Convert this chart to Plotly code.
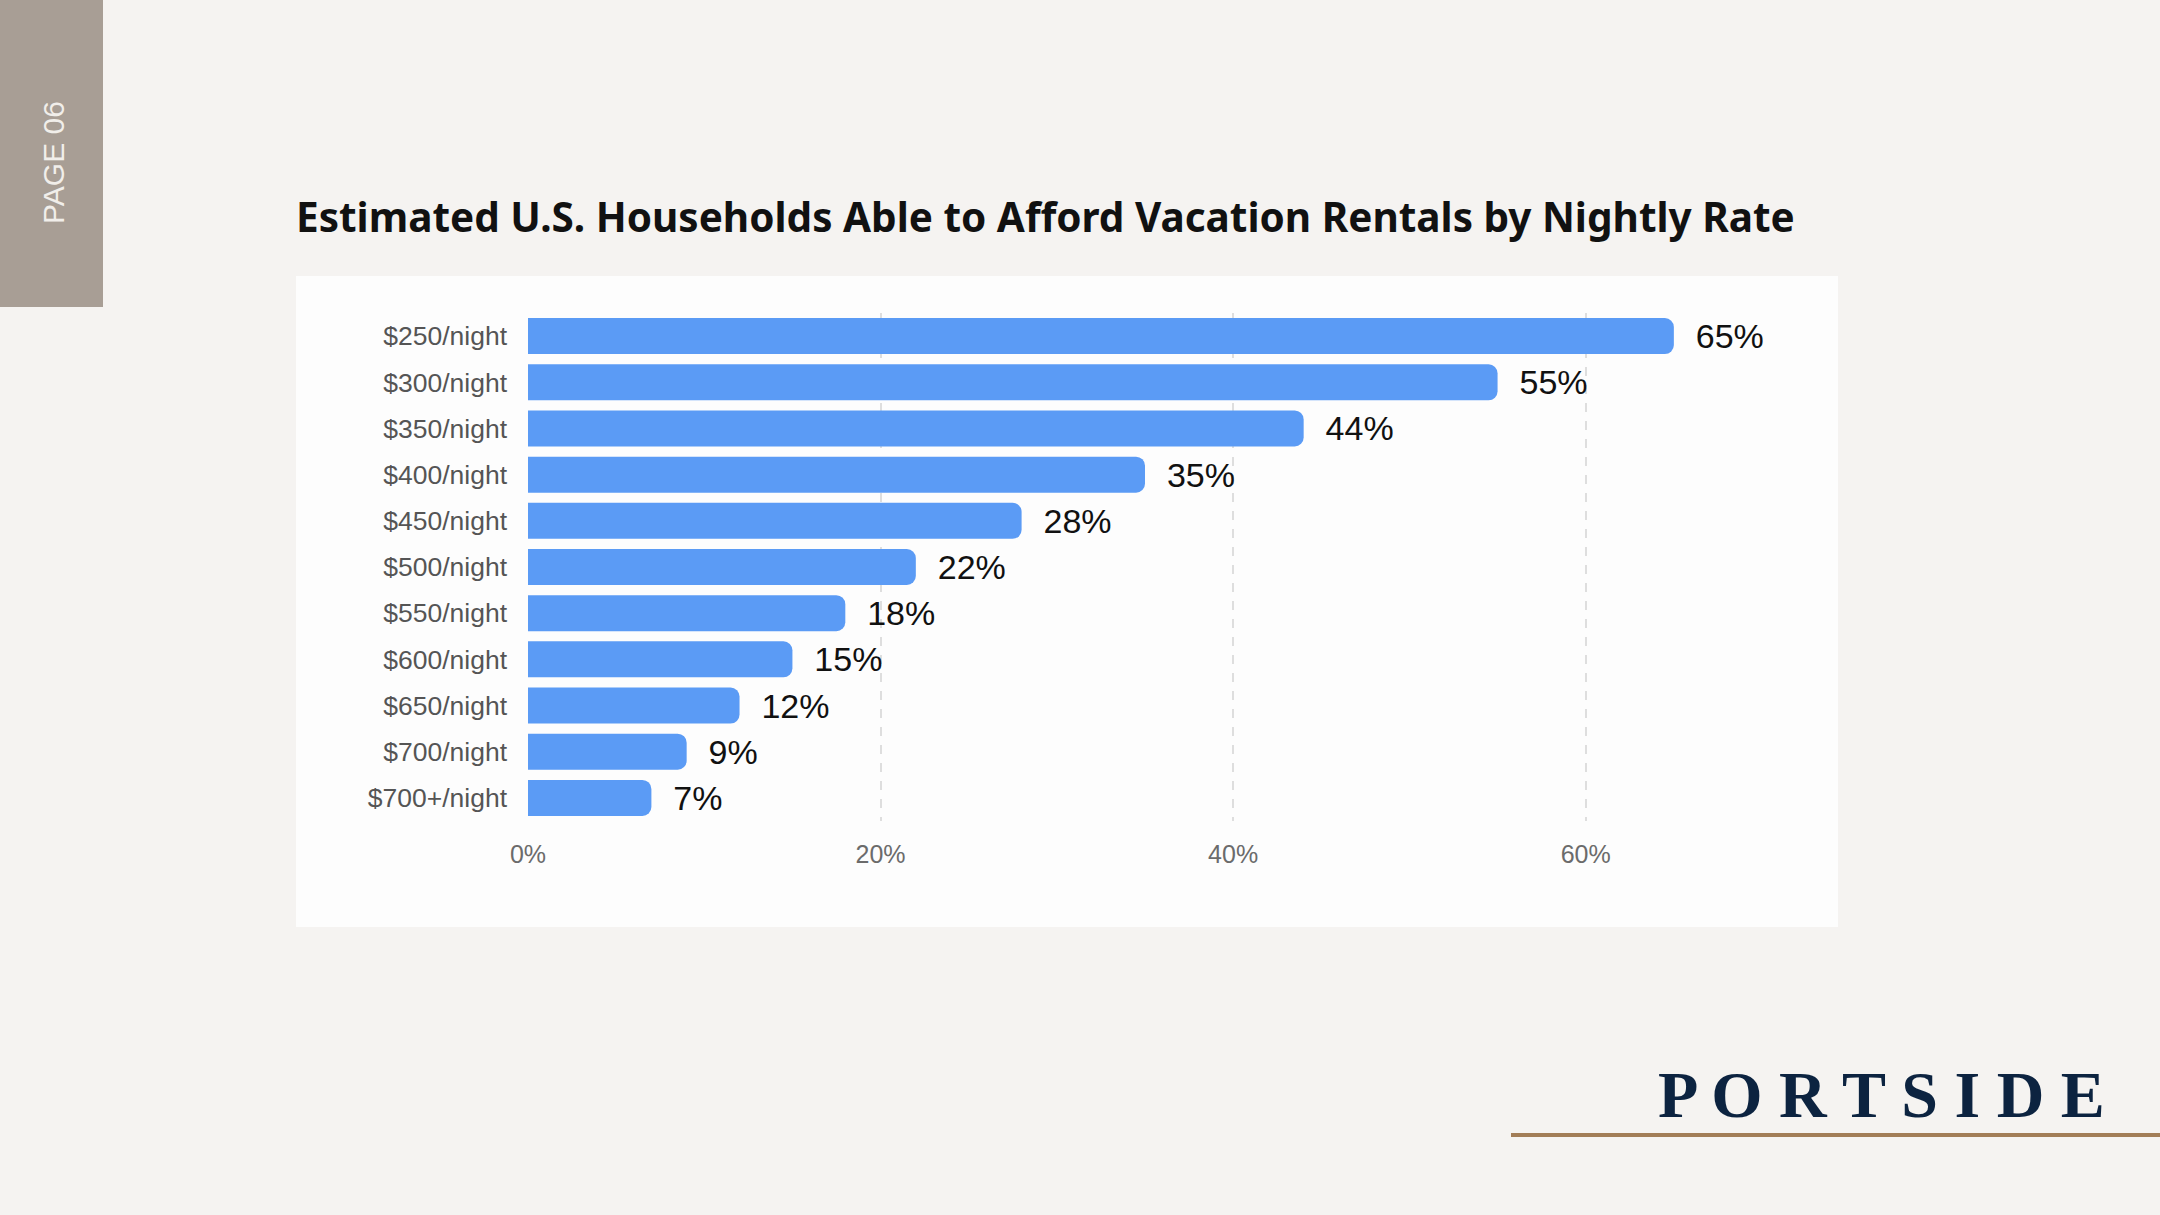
import plotly.graph_objects as go

W, H = 2160, 1215

categories = ["$250/night", "$300/night", "$350/night", "$400/night", "$450/night",
              "$500/night", "$550/night", "$600/night", "$650/night", "$700/night",
              "$700+/night"]
values = [65, 55, 44, 35, 28, 22, 18, 15, 12, 9, 7]
tick_vals = [0, 20, 40, 60]
tick_text = ["0%", "20%", "40%", "60%"]

title_text = "Estimated U.S. Households Able to Afford Vacation Rentals by Nightly Rate"

def px(v):
    return v / W

def py(v):
    return 1 - v / H

fig = go.Figure()
fig.add_trace(go.Bar(
    y=categories,
    x=values,
    orientation="h",
    marker=dict(color="#5b9bf5", cornerradius=9, line=dict(width=0)),
    text=[f"  {v}%" for v in values],
    textposition="outside",
    constraintext="none",
    cliponaxis=False,
    textfont=dict(family="Liberation Sans, Arial, sans-serif", size=34, color="#111111"),
    hoverinfo="skip",
))

shapes = [
    dict(type="rect", xref="paper", yref="paper", x0=0, x1=px(103), y0=py(307), y1=1,
         fillcolor="#a89e95", line=dict(width=0), layer="below"),
    dict(type="rect", xref="paper", yref="paper", x0=px(296), x1=px(1838), y0=py(927), y1=py(276),
         fillcolor="#fdfdfd", line=dict(width=0), layer="below"),
    dict(type="line", xref="paper", yref="paper", x0=px(1511), x1=1, y0=py(1135), y1=py(1135),
         line=dict(color="#a27d57", width=4)),
]

annotations = [
    dict(text=title_text, xref="paper", yref="paper", x=px(294), y=py(216),
         xanchor="left", yanchor="middle", showarrow=False,
         font=dict(family="Noto Sans, Open Sans, sans-serif", size=40.5, color="#111111", weight=700)),
    dict(text="PAGE 06", xref="paper", yref="paper", x=px(53), y=py(163),
         xanchor="center", yanchor="middle", showarrow=False, textangle=-90,
         font=dict(family="Liberation Sans, Arial, sans-serif", size=30, color="#f1eeea")),
    dict(text="P O R T S I D E", xref="paper", yref="paper", x=px(1881), y=py(1094),
         xanchor="center", yanchor="middle", showarrow=False,
         font=dict(family="Liberation Serif, DejaVu Serif, serif", size=66, color="#0c2340", weight=700)),
]

fig.update_layout(
    width=W, height=H, autosize=False,
    margin=dict(l=0, r=0, t=0, b=0, pad=0, autoexpand=False),
    paper_bgcolor="#f5f3f1",
    plot_bgcolor="rgba(0,0,0,0)",
    showlegend=False,
    bargap=0.22,
    shapes=shapes,
    annotations=annotations,
    xaxis=dict(
        domain=[px(528), px(1762)],
        range=[0, 70],
        tickvals=tick_vals,
        ticktext=tick_text,
        showgrid=True,
        gridcolor="#dedede",
        gridwidth=1.5,
        griddash="dash",
        zeroline=False,
        showline=False,
        ticks="",
        automargin=False,
        ticklabelstandoff=16,
        tickfont=dict(family="Liberation Sans, Arial, sans-serif", size=25, color="#6b6b6b"),
        fixedrange=True,
    ),
    yaxis=dict(
        domain=[py(821), py(313)],
        autorange="reversed",
        showgrid=False,
        zeroline=False,
        showline=False,
        ticks="",
        automargin=False,
        ticklabelstandoff=20,
        tickfont=dict(family="Liberation Sans, Arial, sans-serif", size=26.5, color="#555555"),
        fixedrange=True,
    ),
)

fig.write_html(
    "out.html",
    config={"displayModeBar": False},
    post_script="document.body.style.margin='0';document.body.style.overflow='hidden';",
)
